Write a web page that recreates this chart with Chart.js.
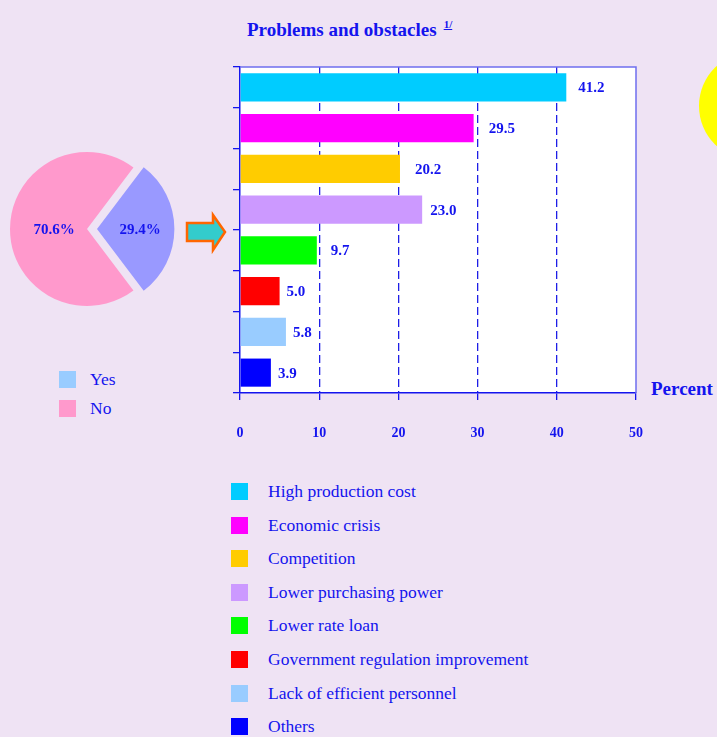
<!DOCTYPE html>
<html>
<head>
<meta charset="utf-8">
<script src="https://cdn.jsdelivr.net/npm/chart.js@4.4.0/dist/chart.umd.min.js"></script>
<style>
  body { margin: 0; background: #EFE3F4; width: 717px; height: 737px; overflow: hidden; position: relative; font-family: "Liberation Serif", "Times New Roman", serif; color: #1414EE; }
  .abs { position: absolute; }
  #title { left: 247px; top: 18px; font-size: 19px; font-weight: bold; white-space: nowrap; }
  #title sup { font-size: 11px; text-decoration: underline; vertical-align: 8px; margin-left: 7px; }
  #percent { left: 651px; top: 378px; font-size: 19px; font-weight: bold; }
  .leg { font-size: 17.5px; white-space: nowrap; }
  .sw { position: absolute; width: 17px; height: 17px; }
</style>
</head>
<body>
<!-- soleil jaune coupé à droite -->
<svg class="abs" style="left:0;top:0" width="717" height="737">
  <circle cx="753" cy="106" r="54" fill="#FFFF00"/>
  <!-- flèche entre le camembert et les barres -->
  <polygon points="187,223 213,223 213,215 225,232 213,250 213,241 187,241" fill="#33CCCC" stroke="#FF6600" stroke-width="2.5" stroke-linejoin="miter"/>
</svg>

<div id="title" class="abs">Problems and obstacles<sup>1/</sup></div>
<div id="percent" class="abs">Percent</div>

<div class="abs" style="left:0;top:129px;width:180px;height:200px"><canvas id="pie"></canvas></div>
<div class="abs" style="left:180px;top:40px;width:537px;height:413px"><canvas id="bars"></canvas></div>

<div id="pieLegend"></div>
<div id="barLegend"></div>

<script>
// données
var pieLabels = ['Yes', 'No'];
var pieValues = [29.4, 70.6];
var pieColors = ['#9999FF', '#FF99CC'];
var pieLegendColors = ['#99CCFF', '#FF99CC'];

var categories = ['High production cost', 'Economic crisis', 'Competition', 'Lower purchasing power',
                  'Lower rate loan', 'Government regulation improvement', 'Lack of efficient personnel', 'Others'];
var percents = [41.2, 29.5, 20.2, 23.0, 9.7, 5.0, 5.8, 3.9];
var barColors = ['#00CCFF', '#FF00FF', '#FFCC00', '#CC99FF', '#00FF00', '#FF0000', '#99CCFF', '#0000FF'];
var xTicks = [0, 10, 20, 30, 40, 50];

var blue = '#1414EE';

// étiquettes du camembert
var pieLabelPlugin = {
  id: 'pieLabels',
  afterDatasetsDraw: function (chart, args, opts) {
    var ctx = chart.ctx;
    var meta = chart.getDatasetMeta(0);
    ctx.save();
    ctx.font = 'bold 15px "Liberation Serif", serif';
    ctx.fillStyle = blue;
    ctx.textAlign = 'center';
    ctx.textBaseline = 'middle';
    meta.data.forEach(function (arc, i) {
      var mid = (arc.startAngle + arc.endAngle) / 2;
      var d = opts.dist[i];
      ctx.fillText(pieValues[i].toFixed(1) + '%', arc.x + Math.cos(mid) * d, arc.y + Math.sin(mid) * d + 1);
    });
    ctx.restore();
  }
};

var pie = new Chart(document.getElementById('pie'), {
  type: 'pie',
  data: {
    labels: pieLabels,
    datasets: [{
      data: pieValues,
      backgroundColor: pieColors,
      borderWidth: 0,
      offset: [40, 0] // /4 dans Chart.js -> 10px
    }]
  },
  options: {
    responsive: true,
    maintainAspectRatio: false,
    animation: false,
    radius: 77,
    rotation: 90 - pieValues[0] * 1.8,
    layout: { padding: { right: 6 } },
    plugins: { legend: { display: false }, tooltip: { enabled: false }, pieLabels: { dist: [53, 33] } }
  },
  plugins: [pieLabelPlugin]
});

// fond blanc, valeurs au bout des barres + cadre haut/droite
var barExtras = {
  id: 'barExtras',
  beforeDraw: function (chart) {
    var a = chart.chartArea;
    chart.ctx.save();
    chart.ctx.fillStyle = '#FFFFFF';
    chart.ctx.fillRect(a.left, a.top, a.right - a.left, a.bottom - a.top);
    chart.ctx.restore();
  },
  afterDatasetsDraw: function (chart, args, opts) {
    var ctx = chart.ctx;
    var a = chart.chartArea;
    ctx.save();
    ctx.strokeStyle = '#6F6FEE';
    ctx.lineWidth = 1.5;
    ctx.beginPath();
    ctx.moveTo(a.left, a.top);
    ctx.lineTo(a.right, a.top);
    ctx.lineTo(a.right, a.bottom);
    ctx.stroke();
    ctx.font = 'bold 15px "Liberation Serif", serif';
    ctx.fillStyle = blue;
    ctx.textBaseline = 'middle';
    chart.getDatasetMeta(0).data.forEach(function (bar, i) {
      ctx.fillText(percents[i].toFixed(1), bar.x + opts.gap[i], bar.y + 1);
    });
    ctx.restore();
  }
};

var bars = new Chart(document.getElementById('bars'), {
  type: 'bar',
  data: {
    labels: categories,
    datasets: [{
      data: percents,
      backgroundColor: barColors,
      borderWidth: 0,
      categoryPercentage: 0.69,
      barPercentage: 1
    }]
  },
  options: {
    indexAxis: 'y',
    responsive: true,
    maintainAspectRatio: false,
    animation: false,
    layout: { padding: { top: 27, right: 81, left: 0, bottom: 0 } },
    scales: {
      x: {
        min: 0, max: 50,
        afterBuildTicks: function (s) { s.ticks = xTicks.map(function (v) { return { value: v }; }); },
        afterFit: function (s) { s.height = 60; },
        grid: { color: function (c) { return (c.tick && c.tick.value > 0 && c.tick.value < 50) ? '#1E1EE6' : 'rgba(0,0,0,0)'; },
                tickColor: blue, tickLength: 7, lineWidth: 1.3, tickWidth: 1.3 },
        border: { color: blue, width: 1.5, dash: [8, 4] },
        ticks: { color: blue, padding: 25, font: { family: '"Liberation Serif", serif', size: 14, weight: 'bold' } }
      },
      y: {
        afterFit: function (s) { s.width = 60; },
        grid: { drawOnChartArea: false, color: blue, tickLength: 7, lineWidth: 1.3 },
        border: { color: blue, width: 1.5 },
        ticks: { display: false }
      }
    },
    plugins: { legend: { display: false }, tooltip: { enabled: false }, barExtras: { gap: [12, 15, 15, 8, 14, 7, 7, 7] } }
  },
  plugins: [barExtras]
});

// légendes en HTML
function addLegend(box, labels, colors, x, tx, y0, step) {
  var el = document.getElementById(box);
  labels.forEach(function (l, i) {
    var y = y0 + i * step;
    var sw = document.createElement('div');
    sw.className = 'sw';
    sw.style.left = x + 'px';
    sw.style.top = (y - 9) + 'px';
    sw.style.background = colors[i];
    el.appendChild(sw);
    var t = document.createElement('div');
    t.className = 'abs leg';
    t.style.left = tx + 'px';
    t.style.top = (y - 11) + 'px';
    t.textContent = l;
    el.appendChild(t);
  });
}
addLegend('pieLegend', pieLabels, pieLegendColors, 59, 90, 380, 28.5);
addLegend('barLegend', categories, barColors, 231, 268, 492, 33.6);
</script>
</body>
</html>
